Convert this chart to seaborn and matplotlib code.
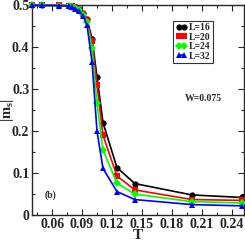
import numpy as np
import pandas as pd
import matplotlib
matplotlib.use('Agg')
import matplotlib.pyplot as plt
import seaborn as sns

# temperatures
T = [0.04, 0.05, 0.0667, 0.0769, 0.08, 0.0833, 0.087, 0.0909, 0.095, 0.1,
     0.105, 0.111, 0.125, 0.1429, 0.2, 0.25]

m_L16 = [0.499, 0.499, 0.499, 0.498, 0.497, 0.495, 0.490, 0.481, 0.466, 0.420,
         0.329, 0.220, 0.113, 0.075, 0.048, 0.042]
m_L20 = [0.499, 0.499, 0.499, 0.498, 0.497, 0.494, 0.489, 0.479, 0.464, 0.413,
         0.310, 0.190, 0.093, 0.060, 0.037, 0.035]
m_L24 = [0.499, 0.499, 0.498, 0.497, 0.496, 0.493, 0.487, 0.477, 0.460, 0.398,
         0.266, 0.155, 0.076, 0.050, 0.032, 0.029]
m_L32 = [0.499, 0.499, 0.498, 0.497, 0.495, 0.491, 0.485, 0.474, 0.452, 0.365,
         0.200, 0.111, 0.056, 0.037, 0.025, 0.022]

labels = ['L=16', 'L=20', 'L=24', 'L=32']
colors = ['#000000', '#ff0000', '#00ff00', '#0000ff']
markers = ['o', 's', 'D', '^']

df = pd.DataFrame({
    'T': T * 4,
    'm': m_L16 + m_L20 + m_L24 + m_L32,
    'L': np.repeat(labels, len(T)),
})

sns.set_style('ticks')
plt.rcParams['font.family'] = ['Liberation Serif', 'DejaVu Serif']
plt.rcParams['font.weight'] = 'bold'
plt.rcParams['mathtext.fontset'] = 'custom'
plt.rcParams['mathtext.rm'] = 'Liberation Serif:bold'
plt.rcParams['mathtext.it'] = 'Liberation Serif:bold'

fig = plt.figure(figsize=(2.45, 2.45), dpi=100)
ax = fig.add_axes([0.131, 0.122, 0.866, 0.858])

for lab, c, mk in zip(labels, colors, markers):
    sub = df[df['L'] == lab]
    ms = 4.0 if mk == 'D' else 4.5
    sns.lineplot(data=sub, x='T', y='m', ax=ax, color=c, marker=mk,
                 markersize=ms, markeredgewidth=0, linewidth=1.2,
                 label=lab, clip_on=False, zorder=3)

ax.set_xlim(0.04, 0.2525)
ax.set_ylim(0, 0.5)
ax.set_xticks([0.06, 0.09, 0.12, 0.15, 0.18, 0.21, 0.24])
ax.set_xticks(np.arange(0.045, 0.25, 0.03), minor=True)
ax.set_yticks([0, 0.1, 0.2, 0.3, 0.4, 0.5])
ax.set_yticklabels(['0', '0.1', '0.2', '0.3', '0.4', '0.5'])
ax.set_yticks(np.arange(0.05, 0.5, 0.1), minor=True)
ax.tick_params(which='both', direction='in', top=True, right=True,
               labelsize=10, pad=2)
ax.tick_params(which='major', length=4, width=0.8)
ax.tick_params(which='minor', length=2, width=0.8)
for lbl in ax.get_xticklabels() + ax.get_yticklabels():
    lbl.set_fontweight('bold')
for sp in ax.spines.values():
    sp.set_linewidth(1.0)

ax.set_xlabel('T', fontsize=11, fontweight='bold', labelpad=-1)
ax.set_ylabel(r'|m$_\mathrm{s}$|', fontsize=10.5, fontweight='bold')
ax.yaxis.set_label_coords(-0.078, 0.5)

leg = ax.legend(loc='upper left', bbox_to_anchor=(0.665, 0.925), numpoints=2,
                handlelength=1.2, handletextpad=0.15, borderpad=0.25,
                labelspacing=0.05, fontsize=7, frameon=True, fancybox=False,
                borderaxespad=0)
leg.get_frame().set_edgecolor('black')
leg.get_frame().set_linewidth(0.8)

ax.text(0.72, 0.557, 'W=0.075', transform=ax.transAxes, fontsize=7,
        fontweight='bold', va='center')
ax.text(0.06, 0.095, '(b)', transform=ax.transAxes, fontsize=7,
        fontweight='bold', va='center')

fig.savefig('out.png', dpi=100)
